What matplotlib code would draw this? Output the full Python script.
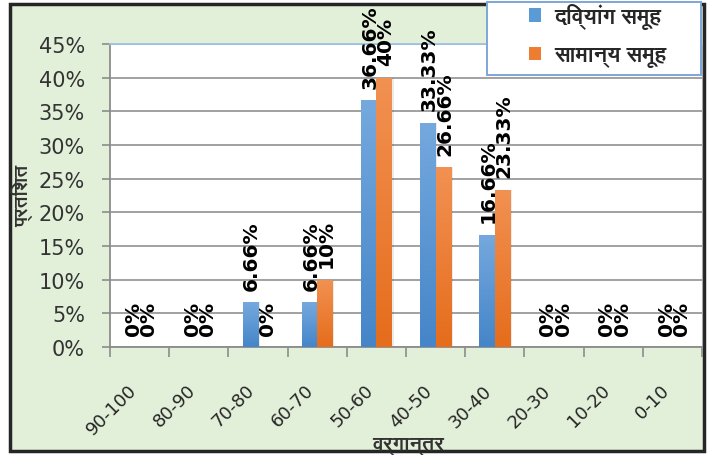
import matplotlib
matplotlib.use("Agg")
import matplotlib.pyplot as plt
from matplotlib.patches import Rectangle, Patch
from matplotlib import font_manager
from matplotlib.ft2font import FT2Font
import numpy as np

# ---------------- data ----------------
categories = ["90-100", "80-90", "70-80", "60-70", "50-60", "40-50",
              "30-40", "20-30", "10-20", "0-10"]
divyang = [0, 0, 6.66, 6.66, 36.66, 33.33, 16.66, 0, 0, 0]
samanya = [0, 0, 0, 10, 40, 26.66, 23.33, 0, 0, 0]
series_names = ["दिव्यांग समूह", "सामान्य समूह"]
y_ticks = [0, 5, 10, 15, 20, 25, 30, 35, 40, 45]
y_label = "प्रतिशत"
x_label = "वर्गान्तर"

# ---------------- font with Devanagari, if any ----------------
def find_font(ch):
    best = None
    for f in font_manager.fontManager.ttflist:
        try:
            ft = FT2Font(f.fname)
            if ft.get_char_index(ord(ch)):
                if f.weight in ("bold", 700) or (isinstance(f.weight, int) and f.weight >= 600):
                    return f.name
                if best is None:
                    best = f.name
        except Exception:
            pass
    return best

deva = find_font("क")
deva_family = [deva, "DejaVu Sans"] if deva else ["DejaVu Sans"]

# ---------------- figure ----------------
W, H = 712, 456
fig = plt.figure(figsize=(W / 100, H / 100), dpi=100, facecolor="white")

def fx(px):
    return px / W

def fy(py):
    return 1 - py / H

frame = Rectangle((fx(10), fy(452)), fx(704) - fx(10), fy(5) - fy(452),
                  transform=fig.transFigure, facecolor="#e2efd9",
                  edgecolor="#262626", lw=2.5, zorder=-10)
fig.patches.append(frame)

ax = fig.add_axes([fx(110), fy(348), fx(702) - fx(110), fy(45) - fy(348)])
ax.set_zorder(1)
ax.set_facecolor("white")

x = np.arange(len(categories))
bw = 0.26
blue_c = "#5b9bd5"
orange_c = "#ed7d31"
bars_b = ax.bar(x - bw / 2, divyang, bw, color=blue_c, zorder=3)
bars_o = ax.bar(x + bw / 2, samanya, bw, color=orange_c, zorder=3)

# gradient fill for bars (Excel style)
def grad(bars, top, bottom):
    c1 = np.array(matplotlib.colors.to_rgb(top))
    c2 = np.array(matplotlib.colors.to_rgb(bottom))
    t = np.linspace(0, 1, 64)[:, None]
    img = (c1 * (1 - t) + c2 * t)[:, None, :]
    for b in bars:
        h = b.get_height()
        if h <= 0:
            continue
        x0 = b.get_x()
        w = b.get_width()
        ax.add_patch(Rectangle((x0 + w * 0.12, 0), w, h, facecolor="#000000",
                               alpha=0.08, lw=0, zorder=2))
        im = ax.imshow(img, extent=[x0, x0 + w, 0, h], aspect="auto",
                       origin="upper", zorder=3.5, interpolation="bilinear")
        im.set_clip_path(b)

grad(bars_b, "#75a9de", "#4585c8")
grad(bars_o, "#f29152", "#e56d1c")

# data labels
for bars, vals in ((bars_b, divyang), (bars_o, samanya)):
    for b, v in zip(bars, vals):
        ax.annotate(f"{v:g}%", (b.get_x() + b.get_width() / 2, v),
                    xytext=(1, 9), textcoords="offset points",
                    rotation=90, ha="center", va="bottom",
                    fontsize=14.5, fontweight="bold", color="black",
                    zorder=5, annotation_clip=False)

ax.set_xlim(-0.5, len(categories) - 0.5)
ax.set_ylim(0, 45)
ax.set_yticks(y_ticks)
ax.set_yticklabels([f"{t}%" for t in y_ticks], fontsize=15, color="#333333")
ax.set_xticks(np.arange(len(categories) + 1) - 0.5)
ax.set_xticklabels([])
# category labels (slightly left of centre, as in the reference)
ax.set_xticks(x - 0.1, minor=True)
ax.set_xticklabels(categories, minor=True, rotation=45, ha="right",
                   va="center", rotation_mode="anchor", fontsize=13,
                   color="#262626")
ax.tick_params(axis="x", which="minor", length=0, pad=29)
ax.tick_params(axis="x", which="major", length=7, width=1.2, color="#8c8c8c")
ax.tick_params(axis="y", length=6, width=1.2, color="#8c8c8c", pad=12)
ax.grid(axis="y", color="#9a9a9a", lw=1.3, zorder=1)
ax.set_axisbelow(True)
for s in ("left", "bottom"):
    ax.spines[s].set_color("#8c8c8c")
    ax.spines[s].set_linewidth(1.3)
ax.spines["top"].set_color("#9dc3e6")
ax.spines["top"].set_linewidth(1.3)
ax.spines["right"].set_color("#a6a6a6")

# axis titles
fig.text(fx(22), fy(196), y_label, rotation=90, ha="center", va="center",
         fontsize=14, fontweight="bold", color="#333333", family=deva_family)
fig.text(fx(408), fy(447), x_label, ha="center", va="center",
         fontsize=14.5, fontweight="bold", color="#333333", family=deva_family)

# legend box + legend
lbox = Rectangle((fx(487), fy(76)), fx(701) - fx(487), fy(3) - fy(76),
                 transform=fig.transFigure, facecolor="white",
                 edgecolor="#7ea6da", lw=1.4, zorder=20)
fig.patches.append(lbox)
handles = [Patch(facecolor=blue_c, edgecolor="none"),
           Patch(facecolor=orange_c, edgecolor="none")]
leg = fig.legend(handles, series_names, loc="center",
                 bbox_to_anchor=(fx(598), fy(36)), frameon=False,
                 handlelength=0.55, handleheight=0.55, handletextpad=0.6,
                 labelspacing=0.75, borderpad=0, borderaxespad=0,
                 prop={"family": deva_family, "size": 16, "weight": "bold"})
leg.set_zorder(21)
for t in leg.get_texts():
    t.set_color("#262626")

fig.savefig("out.png", dpi=100, facecolor="white")
